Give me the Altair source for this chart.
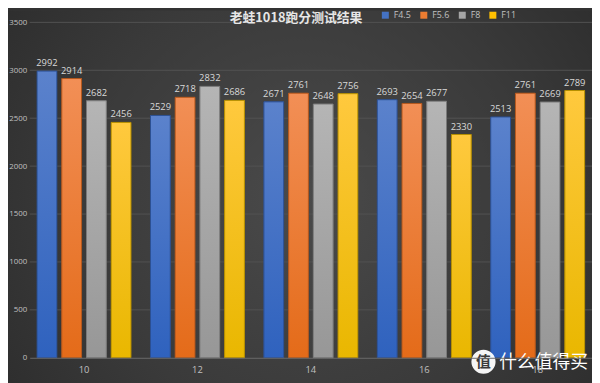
import altair as alt
import pandas as pd

# ---- data ----
focal = ["10", "12", "14", "16", "18"]
series = ["F4.5", "F5.6", "F8", "F11"]
f45 = [2992, 2529, 2671, 2693, 2513]
f56 = [2914, 2718, 2761, 2654, 2761]
f8 = [2682, 2832, 2648, 2677, 2669]
f11 = [2456, 2686, 2756, 2330, 2789]
y_ticks = [500, 1000, 1500, 2000, 2500, 3000, 3500]
title_text = "老蛙1018跑分测试结果"

values = {"F4.5": f45, "F5.6": f56, "F8": f8, "F11": f11}
rows = []
for s in series:
    for f, v in zip(focal, values[s]):
        rows.append({"focal": f, "series": s, "score": v})
df = pd.DataFrame(rows)

base_colors = ["#4472c4", "#ed7d31", "#a5a5a5", "#ffc000"]
grad_top = ["#5b82cc", "#f28f56", "#b5b5b5", "#ffc93e"]
grad_bot = ["#2f62be", "#e46b19", "#979797", "#e9b700"]
edge = ["#2c4f91", "#b3561c", "#7a7a7a", "#b58e00"]

W, H = 570, 340
PL, PT = 22, 12

x_enc = alt.X("focal:N", sort=focal, title=None,
              scale=alt.Scale(paddingInner=0.172, paddingOuter=0.065),
              axis=alt.Axis(labelAngle=0, ticks=False, labelPadding=7,
                            labelColor="#c0c0c0", labelFontSize=9.5,
                            labelFont="Open Sans", domainColor="#6a6a6a",
                            grid=False, zindex=1))
xo_enc = alt.XOffset("series:N", sort=series,
                     scale=alt.Scale(domain=series, paddingInner=0.2, paddingOuter=0))
y_enc = alt.Y("score:Q", title=None,
              scale=alt.Scale(domain=[0, 3500], nice=False),
              axis=alt.Axis(values=y_ticks + [0], format="d", grid=False, domain=False,
                            ticks=False, labelPadding=3, labelColor="#c0c0c0",
                            labelFontSize=8, labelFont="Open Sans", zindex=1))

one = pd.DataFrame({"k": [0]})

bg = alt.Chart(one).mark_rect(
    fill=alt.Gradient(gradient="radial",
                      stops=[alt.GradientStop(color="#4a4a4a", offset=0),
                             alt.GradientStop(color="#3a3a3a", offset=0.5),
                             alt.GradientStop(color="#262626", offset=1)],
                      x1=0.5, y1=0.5, r1=0, x2=0.5, y2=0.5, r2=0.75)
).encode(x=alt.value(-PL), x2=alt.value(W + 10), y=alt.value(-PT), y2=alt.value(H + 30))

grid = alt.Chart(pd.DataFrame({"score": y_ticks})).mark_rule(
    color="#525252", strokeWidth=1
).encode(y=alt.Y("score:Q", scale=alt.Scale(domain=[0, 3500], nice=False)),
         x=alt.value(0), x2=alt.value(W))

bars = alt.Chart(df).mark_bar().encode(
    x=x_enc, xOffset=xo_enc, y=y_enc,
    color=alt.Color("series:N", sort=series,
                    scale=alt.Scale(domain=series, range=base_colors),
                    legend=alt.Legend(title=None, orient="none", direction="horizontal",
                                      legendX=356, legendY=-12, symbolType="square",
                                      symbolSize=50, symbolStrokeWidth=0,
                                      labelFontSize=9, labelColor="#c0c0c0",
                                      labelFont="Open Sans", columnPadding=8,
                                      labelOffset=4))
)

overlays = []
for s, t, b, e in zip(series, grad_top, grad_bot, edge):
    overlays.append(
        alt.Chart(df).transform_filter(alt.datum.series == s).mark_bar(
            fill=alt.Gradient(gradient="linear",
                              stops=[alt.GradientStop(color=t, offset=0),
                                     alt.GradientStop(color=b, offset=1)],
                              x1=0, x2=0, y1=0, y2=1),
            stroke=e, strokeWidth=1
        ).encode(x=x_enc, xOffset=xo_enc, y=y_enc)
    )

labels = alt.Chart(df).mark_text(
    baseline="bottom", dy=-3, fontSize=9.5, color="#d9d9d9", font="Open Sans"
).encode(x=x_enc, xOffset=xo_enc, y=y_enc, text=alt.Text("score:Q"))

title = alt.Chart(pd.DataFrame({"t": [title_text]})).mark_text(
    fontSize=13, font="Noto Sans CJK SC", fontWeight="bold", color="#e6e6e6",
    align="center", baseline="middle"
).encode(x=alt.value(270), y=alt.value(-4), text="t:N")

wm_circle = alt.Chart(one).mark_circle(color="#ffffff", opacity=0.95, size=600).encode(
    x=alt.value(460), y=alt.value(344))
wm_char = alt.Chart(one).mark_text(text="值", color="#3a3a3a", fontSize=15,
                                    font="Noto Sans CJK SC", fontWeight="bold").encode(
    x=alt.value(460), y=alt.value(344))
wm_text = alt.Chart(one).mark_text(text="什么值得买", color="#ffffff", fontSize=18,
                                    align="left", font="Noto Sans CJK SC").encode(
    x=alt.value(476), y=alt.value(345))

chart = alt.layer(bg, grid, bars, *overlays, labels, title, wm_circle, wm_char, wm_text).properties(
    width=W, height=H,
    padding={"left": PL, "top": PT, "right": 0, "bottom": 23},
    autosize=alt.AutoSizeParams(type="none"),
).configure(background="#333333").configure_view(stroke=None)

chart.save("out.html", embed_options={"renderer": "svg", "actions": False})
